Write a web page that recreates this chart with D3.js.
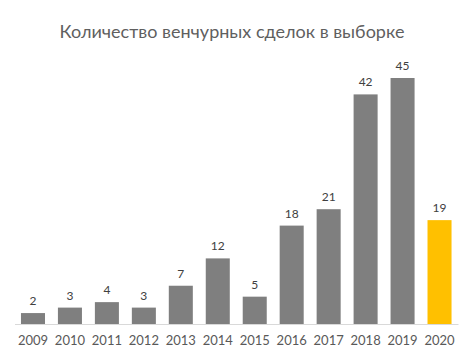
<!DOCTYPE html>
<html lang="ru">
<head>
  <meta charset="UTF-8">
  <title>Венчурные сделки</title>
  <style>
    body { margin: 0; background: #fff; }
    text { font-family: Lato, "Open Sans", sans-serif; }
  </style>
</head>
<body>
<svg width="472" height="359"></svg>

<script src="https://cdn.jsdelivr.net/npm/d3@7"></script>
<script>
// данные
var years = ["2009","2010","2011","2012","2013","2014","2015","2016","2017","2018","2019","2020"];
var deals = [2, 3, 4, 3, 7, 12, 5, 18, 21, 42, 45, 19];
var title = "Количество венчурных сделок в выборке";

var svg = d3.select("svg");
var baseY = 324;

var x = d3.scaleBand().domain(years).range([14.5, 458]).paddingInner(0.35).paddingOuter(0.175);
var y = d3.scaleLinear().domain([0, 45]).range([baseY, 78]);

svg.append("text")
  .attr("x", 232).attr("y", 38)
  .attr("text-anchor", "middle")
  .attr("font-size", 18)
  .attr("fill", "#5f5f5f")
  .text(title);

svg.selectAll("rect.bar")
  .data(deals)
  .enter()
  .append("rect")
  .attr("class", "bar")
  .attr("x", function(d, i){ return x(years[i]); })
  .attr("y", function(d){ return y(d); })
  .attr("width", x.bandwidth())
  .attr("height", function(d){ return baseY - y(d); })
  .attr("fill", function(d, i){ return years[i] === "2020" ? "#ffc000" : "#7f7f7f"; });

// подписи значений
svg.selectAll("text.val")
  .data(deals)
  .enter()
  .append("text")
  .attr("class", "val")
  .attr("x", function(d, i){ return x(years[i]) + x.bandwidth() / 2; })
  .attr("y", function(d){ return y(d) - 8; })
  .attr("text-anchor", "middle")
  .attr("font-size", 12)
  .attr("fill", "#404040")
  .text(function(d){ return d; });

// ось X
var xAxis = d3.axisBottom(x).tickSize(0).tickPadding(12);
var gx = svg.append("g")
  .attr("transform", "translate(0," + baseY + ")")
  .call(xAxis);
gx.select(".domain").attr("stroke", "#d9d9d9");
gx.selectAll("text")
  .attr("font-size", 13)
  .attr("fill", "#595959")
  .style("font-family", "Lato, 'Open Sans', sans-serif");
</script>
</body>
</html>
